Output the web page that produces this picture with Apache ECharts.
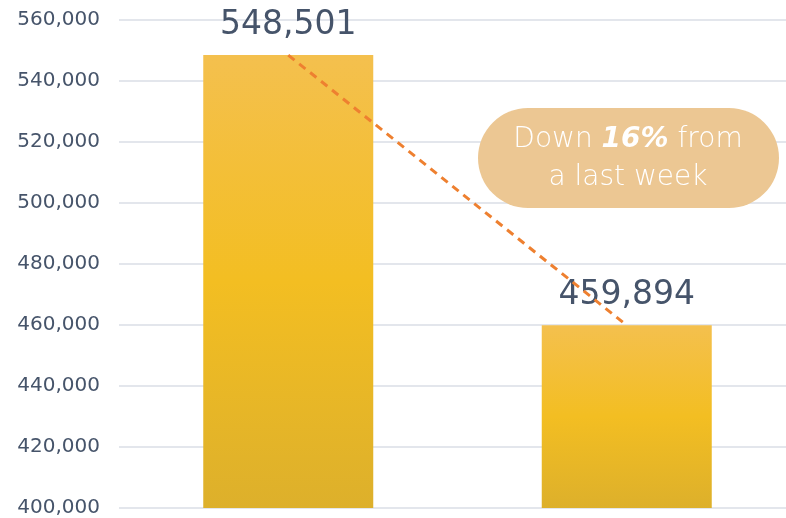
<!DOCTYPE html>
<html>
<head>
<meta charset="utf-8">
<script src="https://cdn.jsdelivr.net/npm/echarts@6/dist/echarts.min.js"></script>
<style>
  html, body { margin: 0; padding: 0; background: #fff; }
  #chart { width: 786px; height: 518px; }
</style>
</head>
<body>
<div id="chart"></div>
<script>
// chart data
var categories = ["Last week", "This week"];
var visitors = [548501, 459894];
var yMin = 400000;
var yMax = 560000;
var yStep = 20000;
var noteLine1 = ["Down ", "16%", " from"];
var noteLine2 = "a last week";

var font = "DejaVu Sans";
var chart = echarts.init(document.getElementById("chart"));

function fmt(v) {
  return String(v).replace(/\B(?=(\d{3})+(?!\d))/g, ",");
}

var option = {
  animation: false,
  grid: {
    left: 119,
    width: 677,
    top: 20,
    bottom: 10,
    outerBoundsMode: "none"
  },
  xAxis: {
    type: "category",
    data: categories,
    show: false
  },
  yAxis: {
    type: "value",
    min: yMin,
    max: yMax,
    interval: yStep,
    axisLine: { show: false },
    axisTick: { show: false },
    splitLine: { lineStyle: { color: "#E3E6EC", width: 2 } },
    axisLabel: {
      margin: 19,
      color: "#46546A",
      fontFamily: font,
      fontSize: 20,
      formatter: function(v) { return fmt(v); }
    }
  },
  series: [
    {
      type: "bar",
      data: visitors,
      barWidth: 170,
      itemStyle: {
        color: new echarts.graphic.LinearGradient(0, 0, 0, 1, [
          { offset: 0, color: "#F4C04E" },
          { offset: 0.5, color: "#F3BE22" },
          { offset: 1, color: "#DDB02B" }
        ])
      },
      label: {
        show: true,
        position: "top",
        distance: 13,
        color: "#46546A",
        fontFamily: font,
        fontSize: 33,
        formatter: function(p) { return fmt(p.value); }
      }
    },
    {
      type: "line",
      data: visitors,
      z: 5,
      symbol: "none",
      lineStyle: { color: "#EE8030", width: 3, type: [8, 6] }
    }
  ],
  graphic: [
    {
      type: "rect",
      shape: { x: 478, y: 108, width: 301, height: 100, r: 50 },
      style: { fill: "#ECC793" },
      z: 10
    },
    {
      type: "text",
      x: 628,
      y: 140,
      z: 11,
      style: {
        text: "{n|" + noteLine1[0] + "}{b|" + noteLine1[1] + "}{n|" + noteLine1[2] + "}",
        align: "center",
        verticalAlign: "middle",
        rich: {
          n: { fill: "#fff", fontFamily: font, fontSize: 28, fontWeight: 300 },
          b: { fill: "#fff", fontFamily: font, fontSize: 28, fontWeight: "bold", fontStyle: "italic" }
        }
      }
    },
    {
      type: "text",
      x: 628,
      y: 178,
      z: 11,
      style: {
        text: noteLine2,
        align: "center",
        verticalAlign: "middle",
        fill: "#fff",
        fontFamily: font,
        fontSize: 28,
        fontWeight: 300
      }
    }
  ]
};

chart.setOption(option);
</script>
</body>
</html>
